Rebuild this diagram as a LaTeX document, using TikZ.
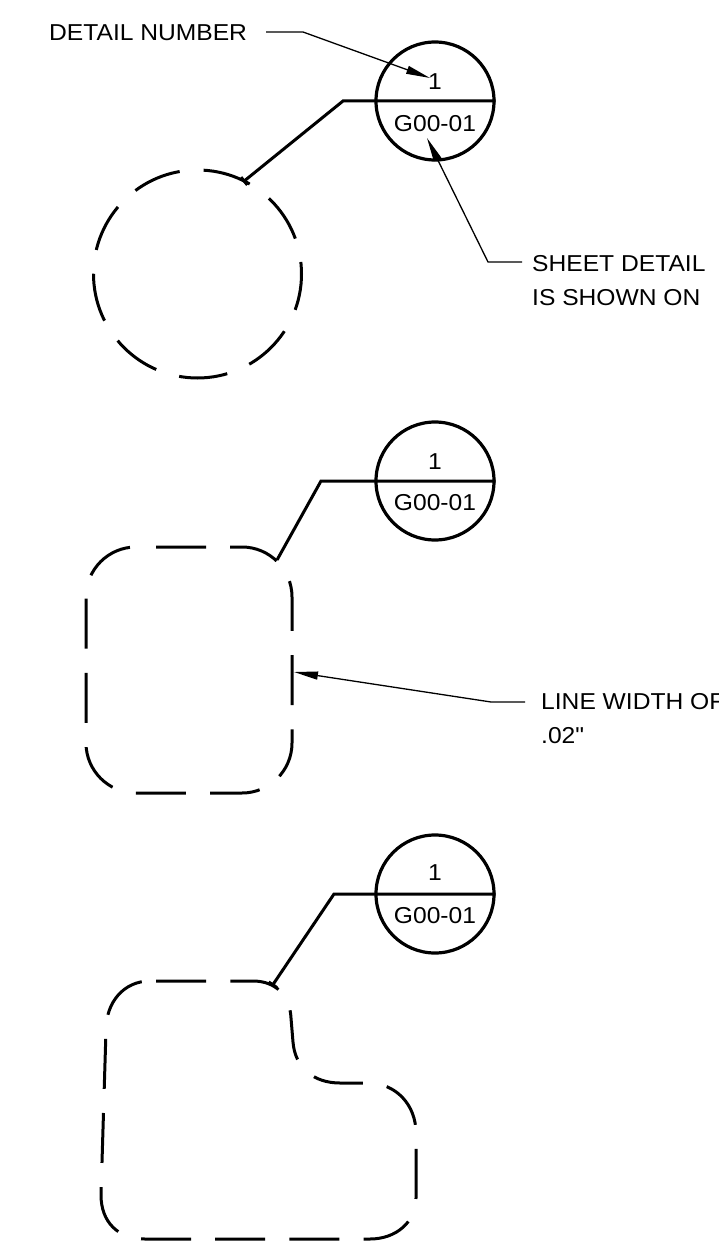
\documentclass[tikz,border=0pt]{standalone}
\usepackage{fontspec}
\setmainfont{Liberation Sans}
\newfontfamily\cadfont[FakeStretch=1.07]{Liberation Sans}
\usetikzlibrary{arrows.meta}
\begin{document}
\begin{tikzpicture}[x=1pt,y=-1pt,
  lbl/.style={font=\cadfont\fontsize{23}{34}\selectfont, inner sep=0pt},
  bubble/.style={draw, circle, line width=3.2pt, minimum size=118pt, inner sep=0pt},
  heavy/.style={line width=3pt},
  leader/.style={line width=1.3pt},
  hidden/.style={line width=3pt, dash pattern=on 50pt off 24.2pt},
  hiddenc/.style={line width=3pt, dash pattern=on 48.6pt off 24pt},
  tip/.style={-{Triangle[length=24pt,width=8pt]}},
  tick/.style={-{Bar[width=10pt]}}
]
\useasboundingbox (0,0) rectangle (719,1246);

% ---------- top ----------
\node[bubble] (b1) at (435,101) {};
\node[lbl] (n1) at (435,82) {1};
\node[lbl] (s1) at (435,124) {G00-01};
\coordinate (k1) at (343,101);
\coordinate (e1) at (243,182);
\draw[heavy,tick] (b1.east) -- (k1) -- (e1);
\draw[hiddenc, dash phase=12pt] (197.5,274) circle[radius=104];

\node[lbl,anchor=west] (dn) at (49,33) {DETAIL NUMBER};
\coordinate (d0) at (266,32);
\coordinate (d1) at (303,32);
\coordinate (d2) at (430,78);
\draw[leader,tip] (d0) -- (d1) -- (d2);

\node[lbl,anchor=north west,align=left] (sd) at (532,255) {SHEET DETAIL\\IS SHOWN ON};
\coordinate (h0) at (522,262);
\coordinate (h1) at (488,262);
\coordinate (h2) at (427,138);
\draw[leader,tip] (h0) -- (h1) -- (h2);

% ---------- middle ----------
\node[bubble] (b2) at (435,481) {};
\node[lbl] (n2) at (435,462) {1};
\node[lbl] (s2) at (435,503) {G00-01};
\coordinate (k2) at (321,481);
\coordinate (e2) at (277,560);
\draw[heavy] (b2.east) -- (k2) -- (e2);
\draw[hidden, dash phase=54.2pt]
  (136,547) -- (242,547)
  .. controls (269.6,547) and (292,569.4) .. (292,597)
  -- (292,743)
  .. controls (292,770.6) and (269.6,793) .. (242,793)
  -- (136,793)
  .. controls (108.4,793) and (86,770.6) .. (86,743)
  -- (86,597)
  .. controls (86,569.4) and (108.4,547) .. (136,547) -- cycle;

\node[lbl,anchor=north west,align=left] (lw) at (541,693) {LINE WIDTH OF\\.02{\char34}};
\coordinate (w0) at (525,702);
\coordinate (w1) at (491,702);
\coordinate (w2) at (294,672);
\draw[leader,tip] (w0) -- (w1) -- (w2);

% ---------- bottom ----------
\node[bubble] (b3) at (435,894) {};
\node[lbl] (n3) at (435,873) {1};
\node[lbl] (s3) at (435,916) {G00-01};
\coordinate (k3) at (334,894);
\coordinate (e3) at (272,986);
\draw[heavy,tick] (b3.east) -- (k3) -- (e3);
\draw[hidden, dash phase=68pt]
  (150,981) -- (253,981)
  .. controls (275,981) and (290,995) .. (291,1018)
  -- (293,1042)
  .. controls (295,1068) and (314,1083) .. (340,1083)
  -- (368,1083)
  .. controls (396,1083) and (416,1105) .. (416,1133)
  -- (416,1198)
  .. controls (416,1222) and (396,1239) .. (370,1239)
  -- (145,1239)
  .. controls (118,1239) and (101,1222) .. (101,1195)
  -- (106,1030)
  .. controls (106,1002) and (124,981) .. (150,981) -- cycle;
\end{tikzpicture}
\end{document}
